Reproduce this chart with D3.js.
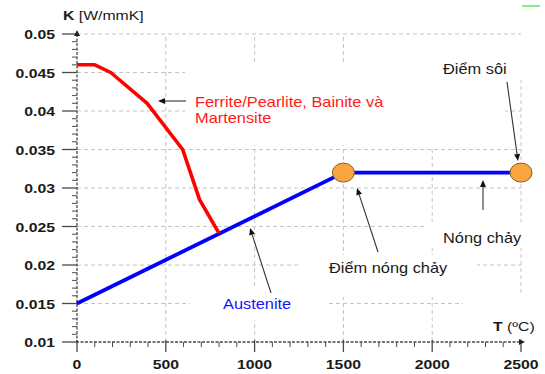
<!DOCTYPE html>
<html>
<head>
<meta charset="utf-8">
<script src="https://cdn.jsdelivr.net/npm/d3@7/dist/d3.min.js"></script>
<style>
  html, body { margin: 0; padding: 0; background: #fff; }
  svg { display: block; font-family: "Liberation Sans", Arial, sans-serif; }
</style>
</head>
<body>
<svg id="chart" width="545" height="374"></svg>
<script>
// Thermal conductivity of steel phases vs temperature
const yTickValues = [0.01, 0.015, 0.02, 0.025, 0.03, 0.035, 0.04, 0.045, 0.05];
const yTickLabels = ["0.01", "0.015", "0.02", "0.025", "0.03", "0.035", "0.04", "0.045", "0.05"];
const xTickValues = [0, 500, 1000, 1500, 2000, 2500];
const xTickLabels = ["0", "500", "1000", "1500", "2000", "2500"];

// Ferrite/Pearlite, Bainite and Martensite branch
const ferriteT = [0, 100, 190, 395, 595, 690, 800];
const ferriteK = [0.046, 0.046, 0.045, 0.041, 0.035, 0.0285, 0.0241];

// Austenite + liquid branch
const austeniteT = [0, 1500, 2500];
const austeniteK = [0.015, 0.032, 0.032];

// Melting and boiling points
const markerT = [1500, 2500];
const markerK = [0.032, 0.032];

const svg = d3.select("#chart");
const x = d3.scaleLinear().domain([0, 2500]).range([77, 521]);
const y = d3.scaleLinear().domain([0.01, 0.05]).range([342, 34]);

const SX = 1.17; // horizontal text stretch

// grid
const grid = svg.append("g").attr("stroke", "#c4c4c4").attr("stroke-width", 1)
  .attr("stroke-dasharray", "4,3");
grid.selectAll("line.h").data(yTickValues.slice(1)).join("line")
  .attr("x1", x(0)).attr("x2", x(2500))
  .attr("y1", d => y(d)).attr("y2", d => y(d));
grid.selectAll("line.v").data(xTickValues.slice(1)).join("line")
  .attr("y1", y(0.01)).attr("y2", y(0.05))
  .attr("x1", d => x(d)).attr("x2", d => x(d));

// white label panels covering the grid
const panels = [
  [185, 62, 320, 83],
  [350, 37, 155, 110],
  [430, 37, 115, 43],
  [190, 287, 138, 33],
  [300, 255, 177, 42],
  [425, 222, 120, 26],
  [463, 295, 82, 40]
];
svg.append("g").selectAll("rect").data(panels).join("rect")
  .attr("x", d => d[0]).attr("y", d => d[1])
  .attr("width", d => d[2]).attr("height", d => d[3])
  .attr("fill", "#fff");

// axes
const axisColor = "#4a4a4a";
const ax = svg.append("g").attr("stroke", axisColor).attr("stroke-width", 1.3);
ax.append("line").attr("x1", x(0)).attr("x2", x(0)).attr("y1", y(0.01) + 1).attr("y2", y(0.05) - 2)
  .attr("stroke-dasharray", "3,1.5");
ax.append("line").attr("x1", x(0) - 1).attr("x2", x(2500) + 2).attr("y1", y(0.01)).attr("y2", y(0.01))
  .attr("stroke-dasharray", "3,1.5");

// y major ticks
ax.selectAll("line.ymaj").data(yTickValues).join("line")
  .attr("x1", x(0) - 15).attr("x2", x(0))
  .attr("y1", d => y(d)).attr("y2", d => y(d));
// y minor ticks
const yMinor = d3.range(0.011, 0.0499, 0.001).filter(v => Math.abs(Math.round(v * 1000) % 5) !== 0);
ax.selectAll("line.ymin").data(yMinor).join("line")
  .attr("stroke-width", 1)
  .attr("x1", x(0) - 5).attr("x2", x(0))
  .attr("y1", d => y(d)).attr("y2", d => y(d));
// x major ticks
ax.selectAll("line.xmaj").data(xTickValues).join("line")
  .attr("y1", y(0.01) - 2).attr("y2", y(0.01) + 10)
  .attr("x1", d => x(d)).attr("x2", d => x(d));
// x minor ticks
const xMinor = d3.range(100, 2500, 100).filter(v => v % 500 !== 0);
ax.selectAll("line.xmin").data(xMinor).join("line")
  .attr("stroke-width", 1)
  .attr("y1", y(0.01)).attr("y2", y(0.01) + 5)
  .attr("x1", d => x(d)).attr("x2", d => x(d));

// arrowheads on axes
svg.append("path")
  .attr("d", `M${x(0)},${y(0.05) - 4} l-3,6 l6,0 z`).attr("fill", "#222");
svg.append("path")
  .attr("d", `M${x(2500) + 4},${y(0.01)} l-6,-3 l0,6 z`).attr("fill", "#222");

// tick labels
svg.append("g").selectAll("text").data(yTickValues).join("text")
  .attr("transform", d => `translate(55,${y(d) + 5}) scale(${SX},1)`)
  .attr("text-anchor", "end")
  .attr("font-size", 13.5).attr("font-weight", "bold").attr("fill", "#1a1a1a")
  .text((d, i) => yTickLabels[i]);
svg.append("g").selectAll("text").data(xTickValues).join("text")
  .attr("transform", d => `translate(${x(d)},369) scale(${SX},1)`)
  .attr("text-anchor", "middle")
  .attr("font-size", 13.5).attr("font-weight", "bold").attr("fill", "#1a1a1a")
  .text((d, i) => xTickLabels[i]);

// axis titles
const kt = svg.append("text").attr("transform", `translate(63,20) scale(${SX},1)`)
  .attr("font-size", 13.5).attr("fill", "#1a1a1a");
kt.append("tspan").attr("font-weight", "bold").text("K");
kt.append("tspan").text(" [W/mmK]");
const tt = svg.append("text").attr("transform", `translate(493,331) scale(${SX},1)`)
  .attr("font-size", 13.5).attr("fill", "#1a1a1a");
tt.append("tspan").attr("font-weight", "bold").text("T");
tt.append("tspan").text(" (ºC)");

// data lines
const line = d3.line().x(d => x(d[0])).y(d => y(d[1]));
svg.append("path")
  .datum(austeniteT.map((t, i) => [t, austeniteK[i]]))
  .attr("d", line).attr("fill", "none")
  .attr("stroke", "#0000ff").attr("stroke-width", 3.8).attr("stroke-linejoin", "round");
svg.append("path")
  .datum(ferriteT.map((t, i) => [t, ferriteK[i]]))
  .attr("d", line).attr("fill", "none")
  .attr("stroke", "#ff0000").attr("stroke-width", 3.6).attr("stroke-linejoin", "round");

// melting / boiling markers
svg.append("g").selectAll("ellipse").data(markerT).join("ellipse")
  .attr("cx", d => x(d)).attr("cy", (d, i) => y(markerK[i]))
  .attr("rx", 11).attr("ry", 9.5)
  .attr("fill", "#f9a63e").attr("stroke", "#8a5a20").attr("stroke-width", 1);

// annotation arrows
const arrows = [
  [186, 101, 158, 101],
  [271, 293, 250, 228],
  [378, 252, 357, 188],
  [483, 210, 483, 180],
  [507, 82, 518, 161]
];
const ag = svg.append("g");
arrows.forEach(a => {
  const [x1, y1, x2, y2] = a;
  const ang = Math.atan2(y2 - y1, x2 - x1);
  const L = 7, W = 3;
  const bx = x2 - L * Math.cos(ang), by = y2 - L * Math.sin(ang);
  ag.append("line").attr("x1", x1).attr("y1", y1).attr("x2", bx).attr("y2", by)
    .attr("stroke", "#333").attr("stroke-width", 1.1);
  const px = -Math.sin(ang) * W, py = Math.cos(ang) * W;
  ag.append("path")
    .attr("d", `M${x2},${y2} L${bx + px},${by + py} L${bx - px},${by - py} Z`)
    .attr("fill", "#111");
});

// annotation labels
const notes = [
  {x: 195, y: 107, t: "Ferrite/Pearlite, Bainite và", c: "#ff1a1a"},
  {x: 195, y: 123, t: "Martensite", c: "#ff1a1a"},
  {x: 223, y: 309, t: "Austenite", c: "#1515ff"},
  {x: 329, y: 273, t: "Điểm nóng chảy", c: "#1a1a1a"},
  {x: 443, y: 243, t: "Nóng chảy", c: "#1a1a1a"},
  {x: 443, y: 74, t: "Điểm sôi", c: "#1a1a1a"}
];
svg.append("g").selectAll("text").data(notes).join("text")
  .attr("transform", d => `translate(${d.x},${d.y}) scale(${SX},1)`)
  .attr("font-size", 14).attr("fill", d => d.c)
  .text(d => d.t);

// small green mark in the corner
svg.append("line").attr("x1", 522).attr("x2", 540).attr("y1", 6).attr("y2", 6)
  .attr("stroke", "#5ee65e").attr("stroke-width", 1.5);
</script>
</body>
</html>
